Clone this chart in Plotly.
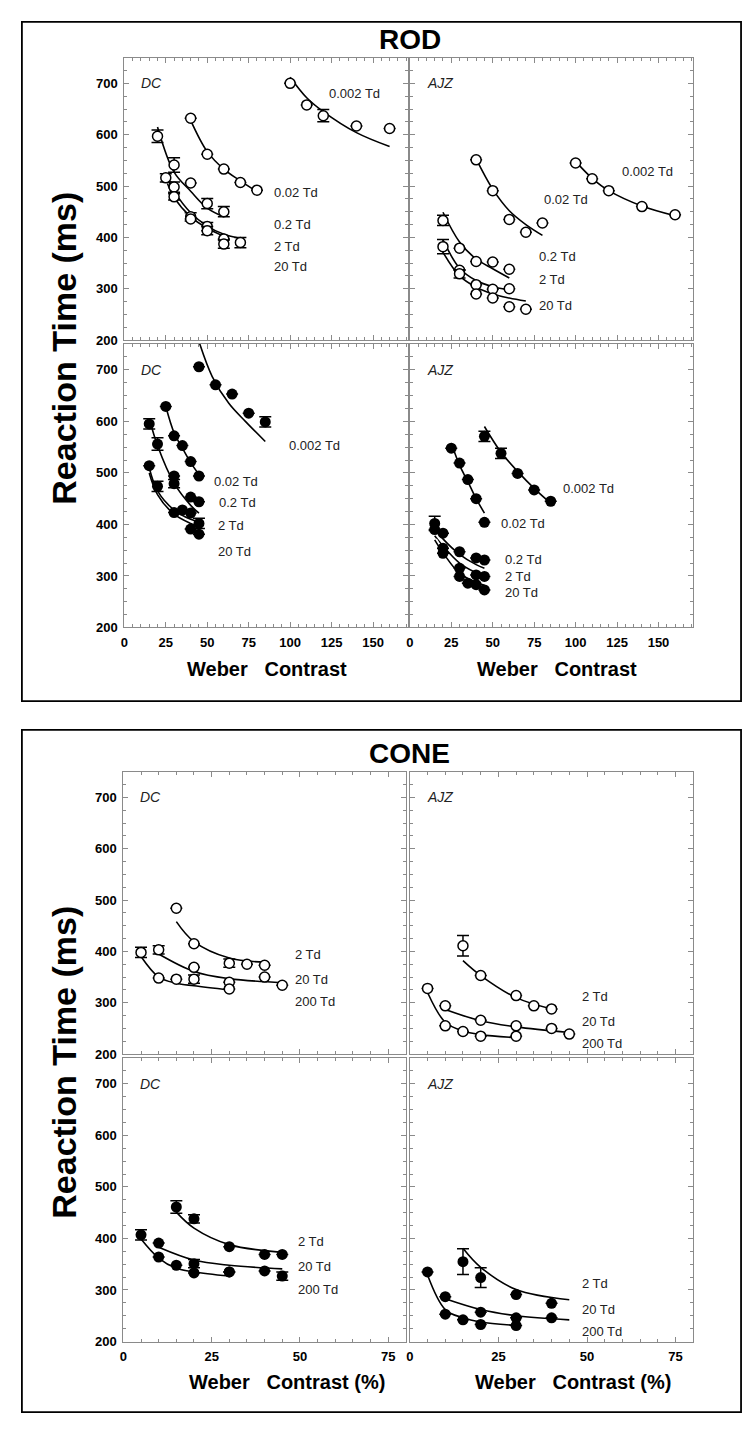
import plotly.graph_objects as go

# ---------------- DATA ----------------
rod_series = ["0.002 Td", "0.02 Td", "0.2 Td", "2 Td", "20 Td"]
cone_series = ["2 Td", "20 Td", "200 Td"]

# ROD, DC, open symbols (top-left)
rod_dc_open_x = [[100, 110, 120, 140, 160], [40, 50, 60, 70, 80], [20, 30, 40, 50, 60],
                 [25, 30, 40, 50, 60, 70], [30, 40, 50, 60]]
rod_dc_open_y = [[700, 658, 637, 617, 612], [632, 562, 533, 507, 492], [597, 541, 506, 466, 450],
                 [516, 498, 440, 421, 397, 390], [479, 436, 413, 387]]
rod_dc_open_err = [[None, None, 12, None, None], [None] * 5, [12, 14, None, 10, 10],
                   [8, 10, 8, 8, None, 10], [6, None, 8, 8]]
rod_dc_open_fit_x = [[100, 110, 120, 140, 160], [40, 50, 60, 70, 80], [20, 30, 40, 50, 60],
                     [25, 30, 40, 50, 60, 70], [26, 30, 40, 50, 60]]
rod_dc_open_fit_y = [[712, 672, 645, 604, 577], [628, 567, 533, 510, 489], [615, 527, 490, 457, 440],
                     [521, 490, 448, 422, 406, 398], [505, 478, 440, 418, 402]]
rod_dc_open_lab_x = [122, 89, 89, 89, 89]
rod_dc_open_lab_y = [681, 487, 425, 382, 344]

# ROD, AJZ, open symbols (top-right)
rod_ajz_open_x = [[100, 110, 120, 140, 160], [40, 50, 60, 70, 80], [20, 30, 40, 50, 60],
                  [20, 30, 40, 50, 60], [30, 40, 50, 60, 70]]
rod_ajz_open_y = [[545, 514, 491, 460, 444], [551, 491, 435, 410, 428], [433, 379, 353, 352, 338],
                  [382, 336, 308, 299, 300], [329, 290, 282, 265, 260]]
rod_ajz_open_err = [[None] * 5, [None] * 5, [10, None, None, None, None],
                    [14, None, None, None, None], [8, None, None, None, None]]
rod_ajz_open_fit_x = [[100, 110, 120, 140, 160], [40, 50, 60, 70, 80], [20, 30, 40, 50, 60],
                      [20, 30, 40, 50, 60], [20, 30, 40, 50, 60, 70]]
rod_ajz_open_fit_y = [[548, 515, 491, 461, 442], [553, 494, 452, 425, 404], [449, 391, 358, 339, 321],
                      [395, 340, 316, 304, 298], [371, 325, 303, 290, 282, 276]]
rod_ajz_open_lab_x = [127, 80, 77, 77, 77]
rod_ajz_open_lab_y = [528, 474, 363, 318, 268]

# ROD, DC, filled symbols (bottom-left)
rod_dc_fill_x = [[45, 55, 65, 75, 85], [25, 30, 35, 40, 45], [15, 20, 30, 40, 45],
                 [20, 30, 35, 40, 45], [15, 30, 40, 45]]
rod_dc_fill_y = [[706, 671, 653, 616, 599], [629, 572, 553, 522, 494], [595, 556, 494, 453, 444],
                 [474, 479, 428, 422, 402], [514, 423, 391, 381]]
rod_dc_fill_err = [[None, None, None, None, 10], [None] * 5, [10, 12, None, None, None],
                   [10, 8, None, None, 10], [None] * 4]
rod_dc_fill_fit_x = [[44, 53, 63, 73, 85], [25, 30, 35, 40, 45], [15, 20, 30, 40, 45],
                     [15, 20, 30, 40, 45], [15, 20, 30, 40, 45]]
rod_dc_fill_fit_y = [[765, 687, 635, 600, 561], [629, 578, 548, 520, 497], [606, 553, 480, 437, 422],
                     [510, 465, 428, 410, 405], [500, 458, 420, 402, 396]]
rod_dc_fill_lab_x = [98, 53, 56, 55, 55]
rod_dc_fill_lab_y = [553, 483, 443, 398, 347]

# ROD, AJZ, filled symbols (bottom-right)
rod_ajz_fill_x = [[45, 55, 65, 75, 85], [25, 30, 35, 40, 45], [15, 20, 30, 40, 45],
                  [15, 20, 30, 40, 45], [20, 30, 35, 40, 45]]
rod_ajz_fill_y = [[571, 538, 499, 467, 445], [548, 519, 487, 450, 404], [402, 383, 347, 335, 331],
                  [390, 354, 315, 302, 299], [344, 299, 286, 283, 273]]
rod_ajz_fill_err = [[10, 10, None, None, None], [None] * 5, [14, None, None, None, None],
                    [None] * 5, [None] * 5]
rod_ajz_fill_fit_x = [[45, 55, 65, 75, 85], [25, 30, 35, 40, 45], [15, 20, 30, 40, 45],
                      [15, 20, 30, 40, 45], [15, 20, 30, 40, 45]]
rod_ajz_fill_fit_y = [[590, 540, 503, 470, 441], [558, 515, 483, 450, 422], [392, 372, 342, 322, 315],
                      [378, 358, 325, 306, 299], [370, 345, 305, 288, 282]]
rod_ajz_fill_lab_x = [91, 54, 56, 56, 56]
rod_ajz_fill_lab_y = [470, 402, 332, 299, 268]

# CONE, DC, open symbols
cone_dc_open_x = [[15, 20, 30, 35, 40], [10, 20, 30, 40, 45], [5, 10, 15, 20, 30]]
cone_dc_open_y = [[484, 415, 377, 375, 373], [403, 369, 340, 350, 334], [398, 348, 346, 346, 327]]
cone_dc_open_err = [[None, None, 8, None, None], [8, None, None, None, None], [10, None, None, 8, None]]
cone_dc_open_fit_x = [[15, 20, 30, 40], [10, 20, 30, 45], [5, 10, 15, 20, 30]]
cone_dc_open_fit_y = [[458, 419, 387, 379], [395, 361, 347, 339], [390, 350, 338, 333, 325]]
cone_dc_open_lab_x = [48, 48, 48]
cone_dc_open_lab_y = [394, 345, 303]

# CONE, AJZ, open symbols
cone_ajz_open_x = [[15, 20, 30, 35, 40], [10, 20, 30, 40, 45], [5, 10, 15, 20, 30]]
cone_ajz_open_y = [[411, 353, 314, 294, 288], [294, 266, 255, 250, 239], [328, 255, 244, 235, 235]]
cone_ajz_open_err = [[20, None, None, None, None], [None] * 5, [None] * 5]
cone_ajz_open_fit_x = [[15, 20, 30, 40], [10, 20, 30, 45], [5, 10, 15, 20, 30]]
cone_ajz_open_fit_y = [[382, 353, 310, 288], [287, 265, 253, 242], [320, 262, 245, 238, 232]]
cone_ajz_open_lab_x = [48, 48, 48]
cone_ajz_open_lab_y = [312, 264, 221]

# CONE, DC, filled symbols
cone_dc_fill_x = [[15, 20, 30, 40, 45], [10, 20, 30, 40, 45], [5, 10, 15, 20, 30]]
cone_dc_fill_y = [[461, 438, 384, 369, 369], [391, 351, 335, 337, 327], [407, 364, 348, 333, 335]]
cone_dc_fill_err = [[12, 8, None, None, None], [None, 8, None, None, 8], [10, None, None, None, None]]
cone_dc_fill_fit_x = [[15, 20, 30, 45], [10, 20, 30, 45], [5, 10, 15, 20, 30]]
cone_dc_fill_fit_y = [[451, 420, 388, 373], [383, 358, 348, 341], [399, 362, 342, 335, 327]]
cone_dc_fill_lab_x = [49, 49, 49]
cone_dc_fill_lab_y = [394, 346, 301]

# CONE, AJZ, filled symbols
cone_ajz_fill_x = [[15, 20, 30, 40], [10, 20, 30, 40], [5, 10, 15, 20, 30]]
cone_ajz_fill_y = [[355, 324, 291, 274], [287, 257, 246, 246], [335, 253, 242, 233, 231]]
cone_ajz_fill_err = [[25, 19, None, None], [None] * 4, [None] * 5]
cone_ajz_fill_fit_x = [[15, 20, 30, 45], [10, 20, 30, 45], [5, 10, 15, 20, 30]]
cone_ajz_fill_fit_y = [[381, 344, 301, 281], [283, 262, 250, 242], [329, 262, 246, 238, 231]]
cone_ajz_fill_lab_x = [48, 48, 48]
cone_ajz_fill_lab_y = [313, 262, 219]

y_ticks = [200, 300, 400, 500, 600, 700]
rod_x_ticks = [0, 25, 50, 75, 100, 125, 150]
cone_x_ticks = [0, 25, 50, 75]

# ---------------- LAYOUT ----------------
W, H = 750, 1440
FONT = "Arial, 'Liberation Sans', Helvetica, sans-serif"
GRAY = "#8a8a8a"


def fx(p):
    return p / W


def fy(p):
    return 1 - p / H


panels = [
    dict(subj="DC", filled=False, x=rod_dc_open_x, y=rod_dc_open_y, e=rod_dc_open_err,
         fxs=rod_dc_open_fit_x, fys=rod_dc_open_fit_y, lx=rod_dc_open_lab_x, ly=rod_dc_open_lab_y,
         xd=(121, 406), yd=(58, 342), xr=171, xt=rod_x_ticks, sxl=False, syl=True, names=rod_series, halo=False),
    dict(subj="AJZ", filled=False, x=rod_ajz_open_x, y=rod_ajz_open_y, e=rod_ajz_open_err,
         fxs=rod_ajz_open_fit_x, fys=rod_ajz_open_fit_y, lx=rod_ajz_open_lab_x, ly=rod_ajz_open_lab_y,
         xd=(408, 693), yd=(58, 342), xr=171, xt=rod_x_ticks, sxl=False, syl=False, names=rod_series, halo=False),
    dict(subj="DC", filled=True, x=rod_dc_fill_x, y=rod_dc_fill_y, e=rod_dc_fill_err,
         fxs=rod_dc_fill_fit_x, fys=rod_dc_fill_fit_y, lx=rod_dc_fill_lab_x, ly=rod_dc_fill_lab_y,
         xd=(121, 406), yd=(346, 631), xr=171, xt=rod_x_ticks, sxl=True, syl=True, names=rod_series, halo=False),
    dict(subj="AJZ", filled=True, x=rod_ajz_fill_x, y=rod_ajz_fill_y, e=rod_ajz_fill_err,
         fxs=rod_ajz_fill_fit_x, fys=rod_ajz_fill_fit_y, lx=rod_ajz_fill_lab_x, ly=rod_ajz_fill_lab_y,
         xd=(408, 693), yd=(346, 631), xr=171, xt=rod_x_ticks, sxl=True, syl=False, names=rod_series, halo=True),
    dict(subj="DC", filled=False, x=cone_dc_open_x, y=cone_dc_open_y, e=cone_dc_open_err,
         fxs=cone_dc_open_fit_x, fys=cone_dc_open_fit_y, lx=cone_dc_open_lab_x, ly=cone_dc_open_lab_y,
         xd=(120, 404), yd=(776, 1060), xr=80, xt=cone_x_ticks, sxl=False, syl=True, names=cone_series, halo=False),
    dict(subj="AJZ", filled=False, x=cone_ajz_open_x, y=cone_ajz_open_y, e=cone_ajz_open_err,
         fxs=cone_ajz_open_fit_x, fys=cone_ajz_open_fit_y, lx=cone_ajz_open_lab_x, ly=cone_ajz_open_lab_y,
         xd=(408, 693), yd=(776, 1060), xr=80, xt=cone_x_ticks, sxl=False, syl=False, names=cone_series, halo=False),
    dict(subj="DC", filled=True, x=cone_dc_fill_x, y=cone_dc_fill_y, e=cone_dc_fill_err,
         fxs=cone_dc_fill_fit_x, fys=cone_dc_fill_fit_y, lx=cone_dc_fill_lab_x, ly=cone_dc_fill_lab_y,
         xd=(120, 404), yd=(1064, 1349), xr=80, xt=cone_x_ticks, sxl=True, syl=True, names=cone_series, halo=False),
    dict(subj="AJZ", filled=True, x=cone_ajz_fill_x, y=cone_ajz_fill_y, e=cone_ajz_fill_err,
         fxs=cone_ajz_fill_fit_x, fys=cone_ajz_fill_fit_y, lx=cone_ajz_fill_lab_x, ly=cone_ajz_fill_lab_y,
         xd=(408, 693), yd=(1064, 1349), xr=80, xt=cone_x_ticks, sxl=True, syl=False, names=cone_series, halo=False),
]

fig = go.Figure()
layout = dict(
    width=W, height=H, margin=dict(l=0, r=0, t=0, b=0),
    paper_bgcolor="white", plot_bgcolor="white", showlegend=False,
    font=dict(family=FONT, color="black"),
)
annotations = []
shapes = []

tickfont = dict(family=FONT, size=13, color="black", weight="bold")

for i, p in enumerate(panels, start=1):
    xa = "x" if i == 1 else f"x{i}"
    ya = "y" if i == 1 else f"y{i}"
    xkey = "xaxis" if i == 1 else f"xaxis{i}"
    ykey = "yaxis" if i == 1 else f"yaxis{i}"
    layout[xkey] = dict(
        domain=[fx(p["xd"][0]), fx(p["xd"][1])], anchor=ya, range=[0, p["xr"]],
        tickmode="array", tickvals=p["xt"], showticklabels=p["sxl"], tickfont=tickfont,
        ticks="inside", ticklen=5, tickcolor=GRAY, tickwidth=1,
        minor=dict(dtick=5, tick0=0, ticks="inside", ticklen=3, tickcolor=GRAY, tickwidth=1),
        showline=True, linecolor=GRAY, linewidth=1, mirror="allticks",
        showgrid=False, zeroline=False, fixedrange=True, ticklabelstandoff=3,
    )
    layout[ykey] = dict(
        domain=[fy(p["yd"][1]), fy(p["yd"][0])], anchor=xa, range=[200, 750],
        tickmode="array", tickvals=y_ticks, showticklabels=p["syl"], tickfont=tickfont,
        ticks="inside", ticklen=5, tickcolor=GRAY, tickwidth=1,
        minor=dict(dtick=25, tick0=0, ticks="inside", ticklen=3, tickcolor=GRAY, tickwidth=1),
        showline=True, linecolor=GRAY, linewidth=1, mirror="allticks",
        showgrid=False, zeroline=False, fixedrange=True, ticklabelstandoff=3,
    )
    # fitted curves
    for k in range(len(p["names"])):
        if p["halo"] and k >= 2:
            fig.add_trace(go.Scatter(x=p["fxs"][k], y=p["fys"][k], mode="lines", xaxis=xa, yaxis=ya,
                                     line=dict(color="white", width=5, shape="spline", smoothing=1.0),
                                     hoverinfo="skip"))
        fig.add_trace(go.Scatter(x=p["fxs"][k], y=p["fys"][k], mode="lines", xaxis=xa, yaxis=ya,
                                 line=dict(color="black", width=1.6, shape="spline", smoothing=1.0),
                                 name=p["names"][k] + " fit"))
    # data points
    for k in range(len(p["names"])):
        if p["filled"]:
            marker = dict(symbol="circle", size=11, color="black", line=dict(color="black", width=0))
        else:
            marker = dict(symbol="circle", size=10, color="white", line=dict(color="black", width=1.5))
        err = [v if v is not None else float("nan") for v in p["e"][k]]
        fig.add_trace(go.Scatter(
            x=p["x"][k], y=p["y"][k], mode="markers", xaxis=xa, yaxis=ya, marker=marker,
            error_y=dict(type="data", array=err, symmetric=True, visible=True, color="black",
                         thickness=1.5, width=6),
            name=p["names"][k]))
        annotations.append(dict(x=p["lx"][k], y=p["ly"][k], xref=xa, yref=ya, text=p["names"][k],
                                showarrow=False, xanchor="left", yanchor="middle",
                                font=dict(family=FONT, size=13, color="#222222")))
    # subject label
    annotations.append(dict(x=0.052 * p["xr"], y=700, xref=xa, yref=ya,
                            text=f"<i>{p['subj']}</i>", showarrow=False, xanchor="left", yanchor="middle",
                            font=dict(family=FONT, size=14, color="#222222")))

# outer frames
for (y0, y1) in [(22, 705), (734, 1420)]:
    shapes.append(dict(type="rect", xref="paper", yref="paper", x0=fx(18), x1=fx(741), y0=fy(y1), y1=fy(y0),
                       line=dict(color="black", width=1.8), fillcolor="rgba(0,0,0,0)", layer="below"))

TITLE_FONT = "'Liberation Sans Narrow', 'Arial Narrow', Arial, 'Liberation Sans', sans-serif"
# section titles
for txt, yp in [("ROD", 40), ("CONE", 758)]:
    annotations.append(dict(x=fx(408), y=fy(yp), xref="paper", yref="paper", text=f"<b>{txt}</b>",
                            showarrow=False, xanchor="center", yanchor="middle",
                            font=dict(family=TITLE_FONT, size=28, color="black")))
# y-axis titles
for yp in [350, 1068]:
    annotations.append(dict(x=fx(60), y=fy(yp), xref="paper", yref="paper", text="<b>Reaction Time (ms)</b>",
                            showarrow=False, textangle=-90, xanchor="center", yanchor="middle",
                            font=dict(family=FONT, size=34, color="black")))
# x-axis titles
SP = "\u00a0 \u00a0"
for xp, yp, txt in [(264, 673, f"Weber{SP}Contrast"), (556, 673, f"Weber{SP}Contrast"),
                    (285, 1390, f"Weber{SP}Contrast (%)"), (572, 1390, f"Weber{SP}Contrast (%)")]:
    annotations.append(dict(x=fx(xp), y=fy(yp), xref="paper", yref="paper", text=f"<b>{txt}</b>",
                            showarrow=False, xanchor="center", yanchor="middle",
                            font=dict(family=FONT, size=20, color="black")))

layout["annotations"] = annotations
layout["shapes"] = shapes
fig.update_layout(**layout)
fig.write_html("out.html", config={"displayModeBar": False},
               post_script="document.body.style.margin='0';document.body.style.padding='0';"
                           "document.documentElement.style.overflow='hidden';")
